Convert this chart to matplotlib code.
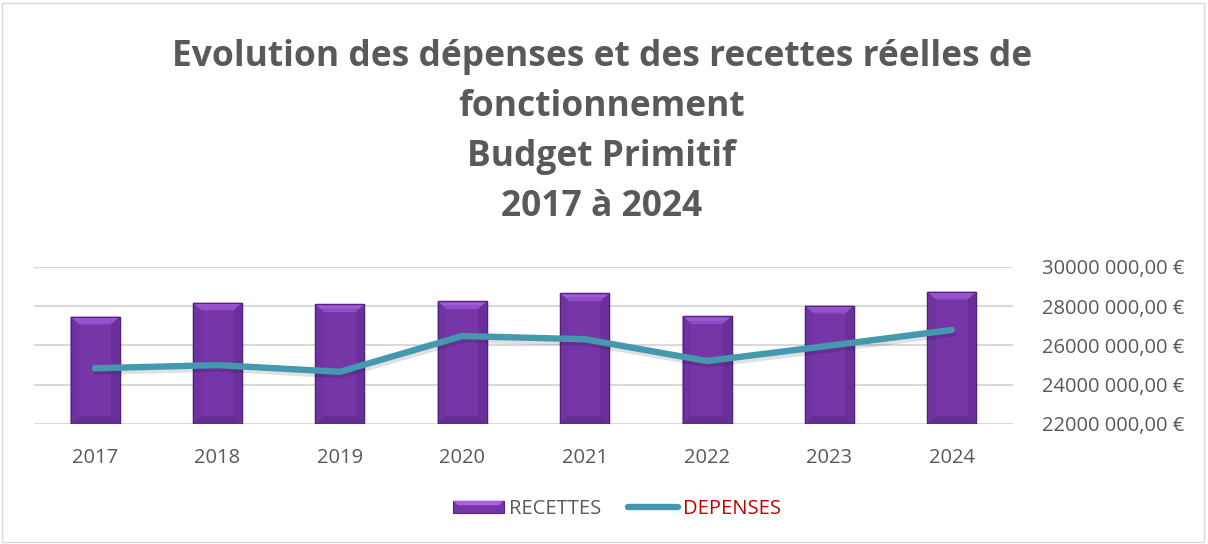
import numpy as np
import matplotlib
matplotlib.use('Agg')
import matplotlib.pyplot as plt
from matplotlib.patches import Polygon, Rectangle
from matplotlib.ticker import FuncFormatter
import matplotlib.patheffects as pe
from matplotlib.legend_handler import HandlerPatch

YEARS = ['2017', '2018', '2019', '2020', '2021', '2022', '2023', '2024']
RECETTES = [27.47e6, 28.18e6, 28.10e6, 28.25e6, 28.66e6, 27.50e6, 28.03e6, 28.74e6]
DEPENSES = [24.84e6, 25.00e6, 24.66e6, 26.48e6, 26.32e6, 25.21e6, 25.99e6, 26.79e6]
Y_TICKS = [22e6, 24e6, 26e6, 28e6, 30e6]
TITLE = ['Evolution des dépenses et des recettes réelles de', 'fonctionnement',
         'Budget Primitif', '2017 à 2024']

PURPLE = '#7636A8'
PURPLE_LIGHT = '#A862E2'
PURPLE_EDGE = '#55217C'
TEAL = '#4599AE'
GREY_TXT = '#595959'
RED = '#C00000'

plt.rcParams['font.family'] = ['Open Sans', 'DejaVu Sans']


def euro(v, _pos):
    k = int(round(v / 1000))
    return f'{k} 000,00 \u20ac'


def bevel_bar(ax, x, top, bottom, w, dx, dy):
    x0, x1 = x - w / 2, x + w / 2
    ax.add_patch(Rectangle((x0, bottom), w, top - bottom, fc=PURPLE,
                           ec=PURPLE_EDGE, lw=0.9, zorder=3))
    # top facet, lighter with a soft fade downwards
    n = 6
    for i in range(n):
        f0, f1 = i / n, (i + 1) / n
        c = np.array(matplotlib.colors.to_rgb(PURPLE_LIGHT)) * (1 - 0.5 * f0) + \
            np.array(matplotlib.colors.to_rgb(PURPLE)) * 0.5 * f0
        ax.add_patch(Polygon([(x0 + dx * f0, top - dy * f0), (x1 - dx * f0, top - dy * f0),
                              (x1 - dx * f1, top - dy * f1), (x0 + dx * f1, top - dy * f1)],
                             closed=True, fc=c, ec='none', zorder=4))
    # bottom facet
    ax.add_patch(Polygon([(x0, bottom), (x1, bottom), (x1 - dx, bottom + dy), (x0 + dx, bottom + dy)],
                         closed=True, fc='#652D92', ec='none', zorder=4))
    # side facets
    ax.add_patch(Polygon([(x0, top), (x0 + dx, top - dy), (x0 + dx, bottom + dy), (x0, bottom)],
                         closed=True, fc='#7033A2', ec='none', zorder=4))
    ax.add_patch(Polygon([(x1, top), (x1 - dx, top - dy), (x1 - dx, bottom + dy), (x1, bottom)],
                         closed=True, fc='#6A309A', ec='none', zorder=4))
    ax.add_patch(Rectangle((x0, bottom), w, top - bottom, fc='none',
                           ec=PURPLE_EDGE, lw=0.9, zorder=5))


class BevelHandler(HandlerPatch):
    def create_artists(self, legend, orig_handle, xd, yd, width, height, fontsize, trans):
        x0, y0 = -xd, -yd
        d = height * 0.35
        arts = [Rectangle((x0, y0), width, height, fc=PURPLE, ec=PURPLE_EDGE, lw=0.8),
                Polygon([(x0, y0 + height), (x0 + width, y0 + height),
                         (x0 + width - d, y0 + height - d), (x0 + d, y0 + height - d)],
                        fc=PURPLE_LIGHT, ec='none')]
        for a in arts:
            a.set_transform(trans)
        return arts


fig = plt.figure(figsize=(12.08, 5.44), dpi=100)
fig.patches.append(Rectangle((0.002, 0.004), 0.995, 0.99, transform=fig.transFigure,
                             fill=False, ec='#D9D9D9', lw=1.0))

ax = fig.add_axes([0.028, 0.2206, 0.8106, 0.2886])
x = np.arange(len(YEARS))
ymin, ymax = Y_TICKS[0], Y_TICKS[-1]
bw = 0.4
dx = 0.07
dy = (ymax - ymin) * 0.05
for xi, v in zip(x, RECETTES):
    bevel_bar(ax, xi, v, ymin, bw, dx, dy)

ax.plot(x, DEPENSES, color=TEAL, lw=4.6, solid_capstyle='round', solid_joinstyle='round',
        zorder=6, path_effects=[pe.SimpleLineShadow(offset=(1.0, -2.5), shadow_color='#000000',
                                                     alpha=0.12), pe.Normal()])

ax.set_xlim(-0.5, len(YEARS) - 0.5)
ax.set_ylim(ymin, ymax)
ax.set_yticks(Y_TICKS)
ax.yaxis.set_major_formatter(FuncFormatter(euro))
ax.yaxis.tick_right()
ax.set_xticks(x)
ax.set_xticklabels(YEARS)
ax.tick_params(axis='both', length=0, labelsize=14.5, colors=GREY_TXT)
ax.tick_params(axis='x', pad=17)
ax.tick_params(axis='y', pad=21)
ax.grid(axis='y', color='#D9D9D9', lw=1.5, zorder=0)
ax.set_axisbelow(True)
for s in ax.spines.values():
    s.set_visible(False)

# title lines, one baseline every 50 px
for i, line in enumerate(TITLE):
    fig.text(0.498, 1 - (66 + 50 * i) / 544, line, ha='center', va='baseline',
             fontsize=25.5, fontweight='bold', color=GREY_TXT)

bar_handle = Rectangle((0, 0), 1, 1)
line_handle, = ax.plot([], [], color=TEAL, lw=4.6, solid_capstyle='round')
leg = fig.legend([bar_handle, line_handle], ['RECETTES', 'DEPENSES'], loc='center',
                 bbox_to_anchor=(0.511, 0.064), ncol=2, frameon=False, fontsize=14.5,
                 handlelength=2.5, handleheight=0.6, columnspacing=1.35, handletextpad=0.25,
                 handler_map={Rectangle: BevelHandler()})
txts = leg.get_texts()
txts[0].set_color(GREY_TXT)
txts[1].set_color(RED)

fig.savefig('out.png', dpi=100)
